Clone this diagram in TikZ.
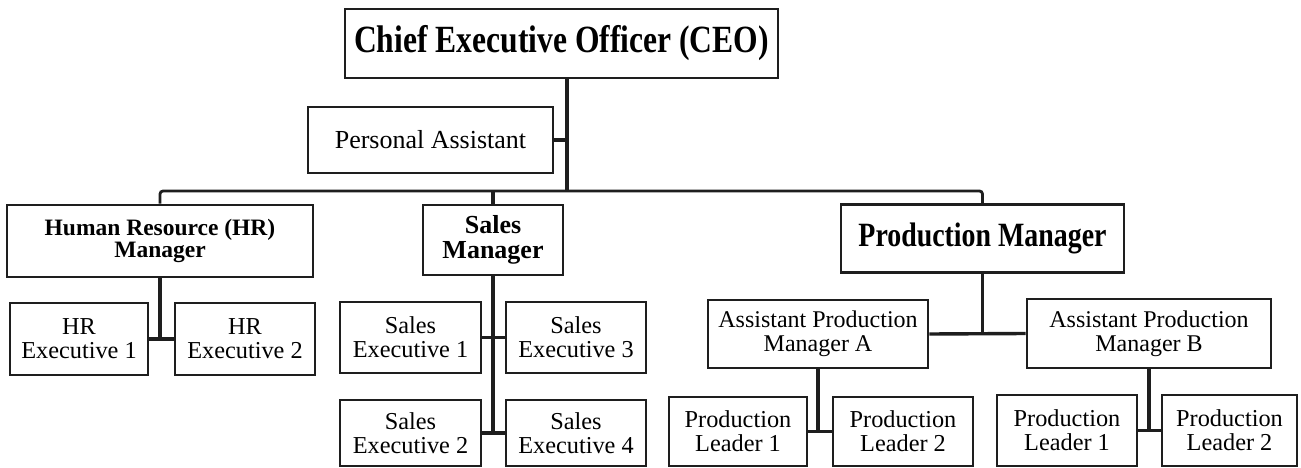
\documentclass[tikz,border=0pt]{standalone}
\usepackage{fontspec}
\setmainfont{Liberation Serif}
\newfontfamily\narrowserif{Liberation Serif}[FakeStretch=0.82]
\definecolor{ink}{HTML}{1E1E1E}
\begin{document}
\begin{tikzpicture}[x=1pt,y=-1pt,
  box/.style={draw=ink, line width=2.8pt, fill=white, inner sep=0pt, align=center,
    font=\fontsize{24.3}{24}\selectfont},
  dims/.style 2 args={minimum width=#1pt, minimum height=#2pt},
  wire/.style={draw=ink, line width=3.4pt},
  bus/.style={draw=ink, line width=2.8pt, rounded corners=3pt}]
\useasboundingbox[fill=white] (0,0) rectangle (1301,468);

% top of the chart
\node[box, dims={433}{69}, font=\narrowserif\bfseries\fontsize{38.5}{38}\selectfont] (ceo) at (561.5,43.5) {Chief Executive Officer (CEO)};
\node[box, dims={245}{66}, font=\fontsize{26}{26}\selectfont] (pa) at (430.5,140) {Personal Assistant};

% managers
\node[box, dims={306}{72}, font=\bfseries\fontsize{23.5}{22}\selectfont] (hrm) at (160,241) {Human Resource (HR)\\Manager};
\node[box, dims={140}{70}, font=\bfseries\fontsize{26}{25.5}\selectfont] (sm) at (493,240) {Sales\\Manager};
\node[box, dims={283}{68}, font=\narrowserif\bfseries\fontsize{34}{34}\selectfont] (pm) at (982.5,238.5) {Production Manager};

% HR staff
\node[box, dims={138}{72}] (hre1) at (79,339) {HR\\Executive 1};
\node[box, dims={140}{72}] (hre2) at (245,339) {HR\\Executive 2};

% sales staff
\node[box, dims={141}{71}] (se1) at (410.5,337.5) {Sales\\Executive 1};
\node[box, dims={140}{71}] (se3) at (576,337.5) {Sales\\Executive 3};
\node[box, dims={141}{66}] (se2) at (410.5,433) {Sales\\Executive 2};
\node[box, dims={140}{66}] (se4) at (576,433) {Sales\\Executive 4};

% production staff
\node[box, dims={220}{68}, font=\fontsize{24}{24}\selectfont] (apma) at (818,334) {Assistant Production\\Manager A};
\node[box, dims={244}{69}, font=\fontsize{24}{24}\selectfont] (apmb) at (1149,333.5) {Assistant Production\\Manager B};
\node[box, dims={138}{69}] (pl1a) at (738,431.5) {Production\\Leader 1};
\node[box, dims={140}{69}] (pl2a) at (903,431.5) {Production\\Leader 2};
\node[box, dims={140}{71}] (pl1b) at (1067,430.5) {Production\\Leader 1};
\node[box, dims={135}{71}] (pl2b) at (1229.5,430.5) {Production\\Leader 2};

% trunk from the CEO down to the managers' bus
\coordinate (trunk) at (567,191);
\draw[wire] (ceo.south -| trunk) -- (trunk);
\draw[wire] (pa.east) -- (pa.east -| trunk);
\draw[bus] (hrm.north) -- (hrm.north |- trunk) -- (pm.north |- trunk) -- (pm.north);
\draw[wire] (sm.north |- trunk) -- (sm.north);

% HR branch
\draw[wire] (hrm.south) -- (hrm.south |- hre1.east);
\draw[wire] (hre1.east) -- (hre2.west);

% sales branch
\draw[wire] (sm.south) -- (sm.south |- se2.east);
\draw[wire] (se1.east) -- (se3.west);
\draw[wire] (se2.east) -- (se4.west);

% production branch
\draw[wire] (pm.south) -- (pm.south |- apma.east);
\draw[wire] (apma.east) -- (apmb.west);
\draw[wire] (apma.south) -- (apma.south |- pl1a.east);
\draw[wire] (pl1a.east) -- (pl2a.west);
\draw[wire] (apmb.south) -- (apmb.south |- pl1b.east);
\draw[wire] (pl1b.east) -- (pl2b.west);
\end{tikzpicture}
\end{document}
